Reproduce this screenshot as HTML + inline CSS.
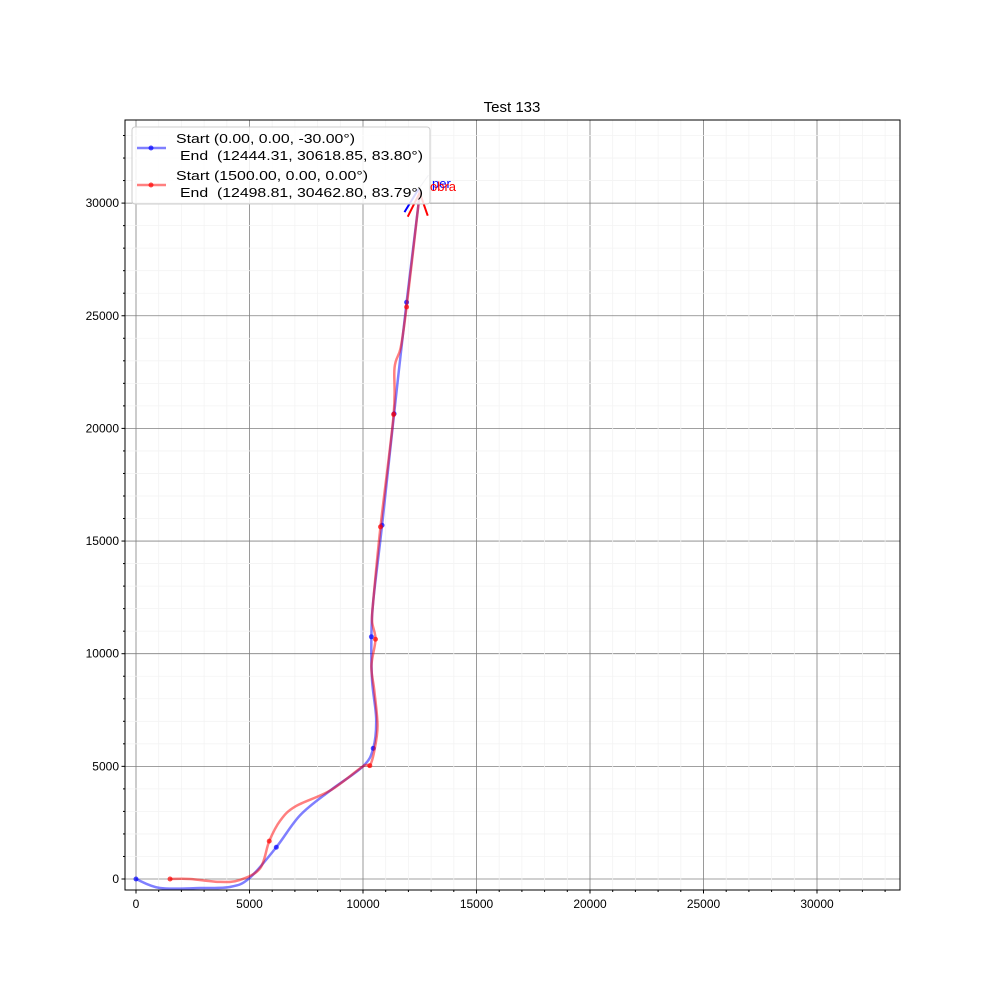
<!DOCTYPE html>
<html><head><meta charset="utf-8"><style>
body{margin:0;background:#fff;font-family:"Liberation Sans","DejaVu Sans",sans-serif}
</style></head><body>
<svg id="chart" width="1000" height="1000" xmlns="http://www.w3.org/2000/svg">
<rect width="1000" height="1000" fill="#fff"/>
<text x="512" y="112" font-size="15" text-anchor="middle">Test 133</text>
<g id="grid"></g><g id="series"></g><g id="axes"></g>
</svg>
<script>
const xTicks=[0,5000,10000,15000,20000,25000,30000];
const yTicks=[0,5000,10000,15000,20000,25000,30000];
const blueX=[0,1060,2820,4160,5000,6180,7230,8560,10000,10450,10580,10400,10370,10450,10840,11370,11920,12450,12444];
const blueY=[0,-400,-400,-350,40,1410,2830,3930,5000,5800,7100,8800,10750,12320,15700,20650,25600,30000,30619];
const blueMarks=[0,5,9,12,14,15,16];
const redX=[1500,2380,3700,4580,5470,5870,6360,7020,8560,10000,10300,10500,10640,10500,10370,10550,10400,10450,10770,11350,11390,11660,11920,12450,12499];
const redY=[0,0,-130,-40,480,1680,2600,3220,3930,5000,5030,5700,6800,8350,9450,10640,11430,12320,15630,20620,22700,23580,25390,30000,30463];
const redMarks=[0,5,10,15,18,19,22];
const L=125,R=900,T=120,B=890,x0=136,y0=879,sx=0.02270,sy=0.02253;
const X=v=>x0+v*sx, Y=v=>y0-v*sy;
const NS="http://www.w3.org/2000/svg";
function mk(tag,attrs,parent){const e=document.createElementNS(NS,tag);for(const k in attrs)e.setAttribute(k,attrs[k]);parent.appendChild(e);return e;}
const grid=document.getElementById('grid'),axes=document.getElementById('axes'),ser=document.getElementById('series');
for(let v=0;v<=34000;v+=1000){
  const px=X(v);if(px>=L&&px<=R){const l=mk('line',{x1:px,x2:px,y1:T,y2:B,stroke:v%5000?'#f3f3f3':'#808080','stroke-width':0.8},grid);
  
  mk('line',{x1:px,x2:px,y1:B,y2:B+(v%5000?2:3.5),stroke:'#000'},axes);}
  const py=Y(v);if(py>=T&&py<=B){const l=mk('line',{x1:L,x2:R,y1:py,y2:py,stroke:v%5000?'#f3f3f3':'#808080','stroke-width':0.8},grid);
  
  mk('line',{x1:L,x2:L-(v%5000?2:3.5),y1:py,y2:py,stroke:'#000'},axes);}
}
xTicks.forEach(v=>{const t=mk('text',{x:X(v),y:B+18,'font-size':12,'text-anchor':'middle'},axes);t.textContent=v;
});
yTicks.forEach(v=>{const t=mk('text',{x:L-6,y:Y(v)+4,'font-size':12,'text-anchor':'end'},axes);t.textContent=v;
});
const fr=mk('rect',{x:L,y:T,width:R-L,height:B-T,fill:'none',stroke:'#000','stroke-width':1},axes);

function smooth(xs,ys){const p=xs.map((x,i)=>[X(x),Y(ys[i])]);let d=`M${p[0][0]},${p[0][1]}`;
 for(let i=0;i<p.length-1;i++){const a=p[Math.max(0,i-1)],b=p[i],c=p[i+1],e=p[Math.min(p.length-1,i+2)];
 d+=` C${b[0]+(c[0]-a[0])/6},${b[1]+(c[1]-a[1])/6} ${c[0]-(e[0]-b[0])/6},${c[1]-(e[1]-b[1])/6} ${c[0]},${c[1]}`;}return d;}
function series(xs,ys,marks,col,name){
 const p=mk('path',{d:smooth(xs,ys),fill:'none',stroke:col,'stroke-opacity':0.5,'stroke-width':2.5},ser);
 
 marks.forEach(i=>{const c=mk('circle',{cx:X(xs[i]),cy:Y(ys[i]),r:2.5,fill:col,'fill-opacity':0.7},ser);
 });
}
series(blueX,blueY,blueMarks,'#0000ff','blue-path');
series(redX,redY,redMarks,'#ff0000','red-path');
const bx=X(blueX[blueX.length-1]),by=Y(blueY[blueY.length-1]),rx=X(redX[redX.length-1]),ry=Y(redY[redY.length-1]);
mk('line',{x1:bx,y1:by,x2:bx-14,y2:by+23,stroke:'#0000ff','stroke-width':2},ser);
mk('line',{x1:bx,y1:by,x2:bx+10,y2:by-14,stroke:'#aab','stroke-width':1},ser);
mk('line',{x1:rx,y1:ry,x2:rx-12,y2:ry+24,stroke:'#ff0000','stroke-width':2},ser);
mk('line',{x1:rx,y1:ry,x2:rx+8,y2:ry+23,stroke:'#ff0000','stroke-width':2},ser);
const t1=mk('text',{x:432,y:188,'font-size':13,fill:'#0000ff'},ser);t1.textContent='per';

const t2=mk('text',{x:430,y:191,'font-size':13,fill:'#ff0000'},ser);t2.textContent='obra';

</script>
<svg width="1000" height="1000" style="position:absolute;left:0;top:0">
<g>
<rect x="132" y="127" width="298" height="77" rx="3" fill="#fff" fill-opacity="0.85" stroke="#ccc"/>
<line x1="137" y1="148" x2="166" y2="148" stroke="#0000ff" stroke-opacity="0.5" stroke-width="2.5"/>
<circle cx="151" cy="148" r="2.5" fill="#0000ff" fill-opacity="0.7"/>
<text x="176" y="143" font-size="13" textLength="179" lengthAdjust="spacingAndGlyphs">Start (0.00, 0.00, -30.00°)</text>
<text x="180" y="160" font-size="13" textLength="243" lengthAdjust="spacingAndGlyphs" xml:space="preserve">End  (12444.31, 30618.85, 83.80°)</text>
<line x1="137" y1="185" x2="166" y2="185" stroke="#ff0000" stroke-opacity="0.5" stroke-width="2.5"/>
<circle cx="151" cy="185" r="2.5" fill="#ff0000" fill-opacity="0.7"/>
<text x="176" y="180" font-size="13" textLength="192" lengthAdjust="spacingAndGlyphs">Start (1500.00, 0.00, 0.00°)</text>
<text x="180" y="197" font-size="13" textLength="243" lengthAdjust="spacingAndGlyphs" xml:space="preserve">End  (12498.81, 30462.80, 83.79°)</text>
</g></svg>
</body></html>
